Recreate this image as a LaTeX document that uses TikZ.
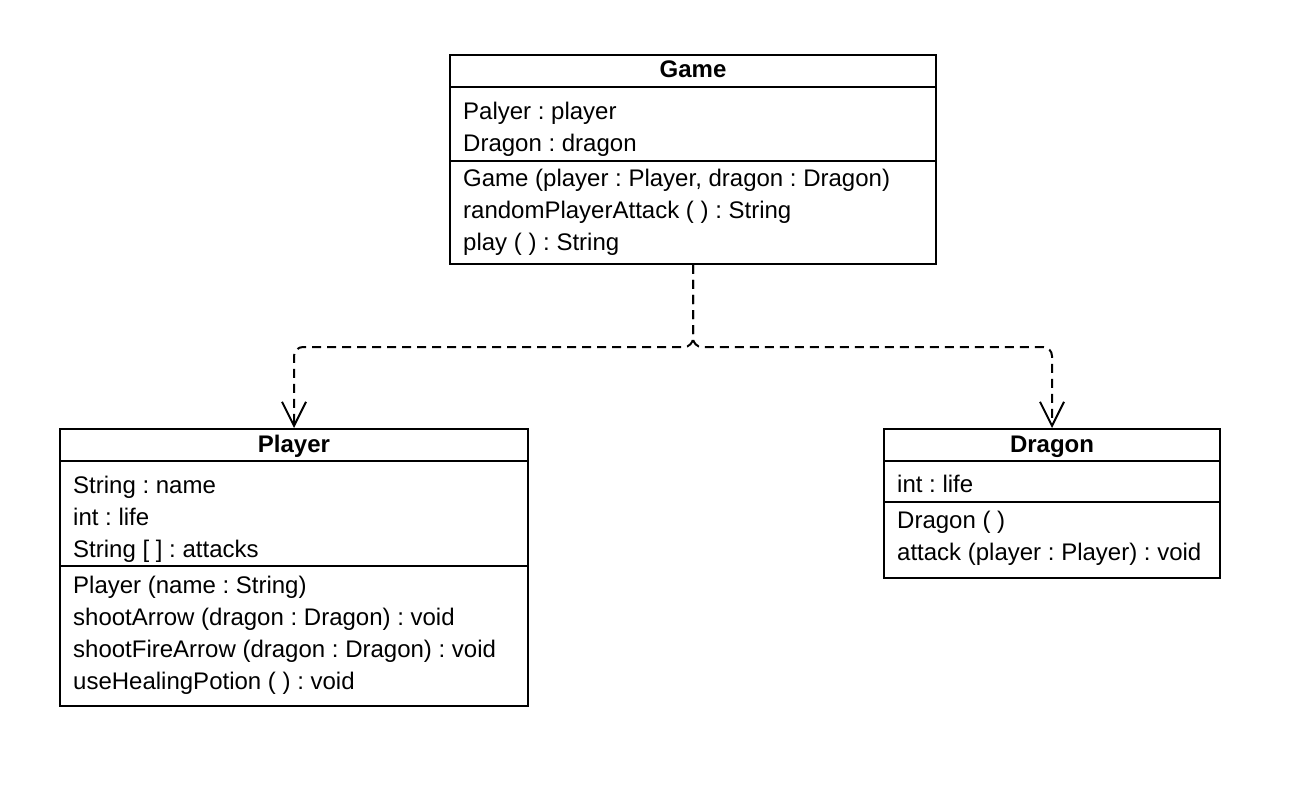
\documentclass[tikz,border=0pt]{standalone}
\usepackage{fontspec}
\setmainfont{Liberation Sans}
\frenchspacing
\usetikzlibrary{calc,arrows.meta}

\tikzset{
  classbox/.style={draw, line width=2pt, inner sep=0pt, minimum width=#1},
  member/.style={anchor=base west, inner sep=0pt, font=\fontsize{24}{28}\selectfont},
  title/.style={anchor=base, inner sep=0pt, font=\fontsize{24}{28}\selectfont\bfseries},
  dep/.style={dashed, dash pattern=on 9pt off 6pt, line width=2pt, rounded corners=9pt,
    -{Straight Barb[length=24pt, width=24pt, line width=2pt]}}
}

\begin{document}
\begin{tikzpicture}[x=1pt, y=-1pt]

\useasboundingbox (0,0) rectangle (1298,786);

% Class boxes
\node[classbox=486pt, minimum height=209pt] (game) at (693,159.5) {};
\node[classbox=468pt, minimum height=277pt] (player) at (294,567.5) {};
\node[classbox=336pt, minimum height=149pt] (dragon) at (1052,503.5) {};

% Compartment lines
\draw[line width=2pt] (game.north west) ++(0,33) -- ++(486,0);
\draw[line width=2pt] (game.north west) ++(0,107) -- ++(486,0);
\draw[line width=2pt] (player.north west) ++(0,33) -- ++(468,0);
\draw[line width=2pt] (player.north west) ++(0,138) -- ++(468,0);
\draw[line width=2pt] (dragon.north west) ++(0,33) -- ++(336,0);
\draw[line width=2pt] (dragon.north west) ++(0,74) -- ++(336,0);

% Game
\node[title] (gameT) at (693,78) {Game};
\node[member] (gameA1) at (463,120) {Palyer : player};
\node[member] (gameA2) at (463,152) {Dragon : dragon};
\node[member] (gameM1) at (463,187) {Game (player : Player, dragon : Dragon)};
\node[member] (gameM2) at (463,219) {randomPlayerAttack ( ) : String};
\node[member] (gameM3) at (463,251) {play ( ) : String};

% Player
\node[title] (playerT) at (294,452) {Player};
\node[member] (playerA1) at (73,493) {String : name};
\node[member] (playerA2) at (73,525) {int : life};
\node[member] (playerA3) at (73,557) {String [ ] : attacks};
\node[member] (playerM1) at (73,593) {Player (name : String)};
\node[member] (playerM2) at (73,625) {shootArrow (dragon : Dragon) : void};
\node[member] (playerM3) at (73,657) {shootFireArrow (dragon : Dragon) : void};
\node[member] (playerM4) at (73,689) {useHealingPotion ( ) : void};

% Dragon
\node[title] (dragonT) at (1052,452) {Dragon};
\node[member] (dragonA1) at (897,492) {int : life};
\node[member] (dragonM1) at (897,528) {Dragon ( )};
\node[member] (dragonM2) at (897,560) {attack (player : Player) : void};

% Dependencies
\coordinate (split) at (693,347);
\draw[dep] (game.south) -- (split) -| (player.north);
\draw[dep] (game.south) -- (split) -| (dragon.north);

\end{tikzpicture}
\end{document}
